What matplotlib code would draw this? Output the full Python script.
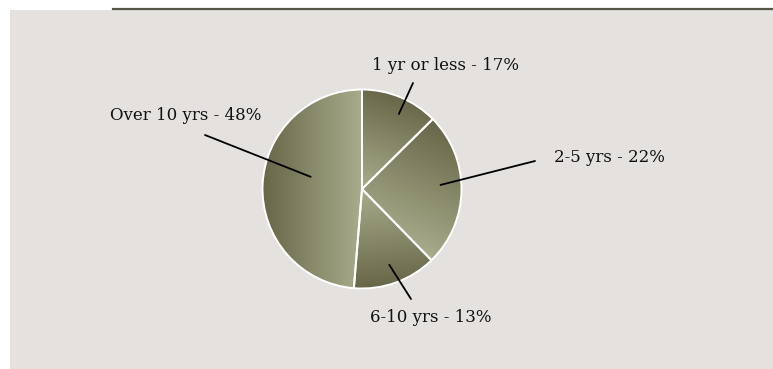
import numpy as np
import matplotlib.pyplot as plt
from matplotlib.colors import LinearSegmentedColormap

# slice sizes as drawn in the picture (clockwise from 12 o'clock)
slice_sizes = [12.6, 25.1, 13.6, 48.7]
labels = ["1 yr or less - 17%", "2-5 yrs - 22%", "6-10 yrs - 13%", "Over 10 yrs - 48%"]

# gradient direction (dark -> light) for each slice, degrees
grad_dirs = [250, 245, 95, 0]
# where the leader line touches the slice: fraction of radius, angle offset from bisector
leader_r = [0.84, 0.79, 0.81, 0.53]
leader_dang = [-3.5, 3.5, 0, -11]
# outer end of leader lines and label anchors (pixel coords, y up)
leader_out = [(413, 286), (535, 208), (411, 70), (205, 234)]
label_pos = [(445, 304, "center"), (554, 212, "left"), (431, 52, "center"), (110, 254, "left")]

W, H = 773, 369
bg = "#e5e1de"
cmap = LinearSegmentedColormap.from_list("olive", ["#676648", "#a9ad8c"])

fig = plt.figure(figsize=(W / 100, H / 100), dpi=100)
fig.patch.set_facecolor("white")

ax = fig.add_axes([0, 0, 1, 1])
ax.set_facecolor("none")
ax.add_patch(plt.Rectangle((10, 0), W - 10, H - 10, facecolor=bg, edgecolor="none", zorder=0))
ax.plot([113, W], [H - 8.5, H - 8.5], color="#55554a", lw=1.6, zorder=1)

cx, cy, R = 362, 180, 99.5
wedges, _ = ax.pie(slice_sizes, center=(cx, cy), radius=R, startangle=90, counterclock=False,
                   wedgeprops=dict(facecolor="none", edgecolor="white", linewidth=1.4, zorder=3))

xs = np.linspace(cx - R, cx + R, 300)
ys = np.linspace(cy - R, cy + R, 300)
X, Y = np.meshgrid(xs, ys)

for w, gd, lr, da, out in zip(wedges, grad_dirs, leader_r, leader_dang, leader_out):
    d = np.array([np.cos(np.radians(gd)), np.sin(np.radians(gd))])
    verts = w.get_path().vertices
    proj_v = verts[:, 0] * d[0] + verts[:, 1] * d[1]
    proj = X * d[0] + Y * d[1]
    t = (proj - proj_v.min()) / (proj_v.max() - proj_v.min())
    im = ax.imshow(np.clip(t, 0, 1), cmap=cmap, vmin=0, vmax=1, origin="lower",
                   extent=(cx - R, cx + R, cy - R, cy + R), zorder=2, interpolation="bilinear")
    im.set_clip_path(w)

    mid = np.radians((w.theta1 + w.theta2) / 2 + da)
    inner = (cx + lr * R * np.cos(mid), cy + lr * R * np.sin(mid))
    ax.annotate("", xy=inner, xytext=out,
                arrowprops=dict(arrowstyle="-", color="black", lw=1.3, shrinkA=0, shrinkB=0),
                zorder=4)

for lab, (x, y, ha) in zip(labels, label_pos):
    ax.text(x, y, lab, ha=ha, va="center", fontsize=12, family="DejaVu Serif", color="#111111")

ax.set_xlim(0, W)
ax.set_ylim(0, H)
ax.set_aspect("auto")
ax.axis("off")

fig.savefig("out.png", dpi=100, facecolor="white")
